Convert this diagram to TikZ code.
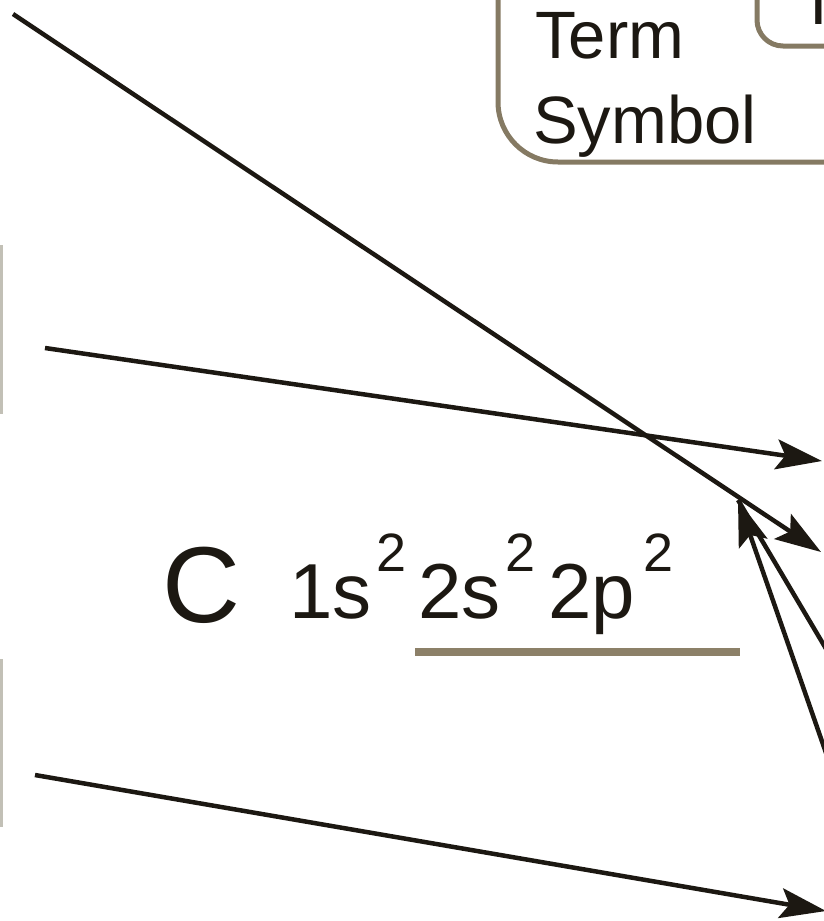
\documentclass[tikz,border=0pt]{standalone}
\usepackage{fontspec}
\setmainfont{Liberation Sans}
\usetikzlibrary{arrows.meta}
\definecolor{ink}{HTML}{1C1812}
\definecolor{boxc}{HTML}{857A63}
\definecolor{barc}{HTML}{C2C0B6}
\definecolor{ulc}{HTML}{8C8068}
\begin{document}
\begin{tikzpicture}[x=1pt,y=-1pt,
  conn/.style={line width=4.5pt, draw=ink, -{Stealth[length=46pt,width=30pt,inset=9pt]}},
  plainline/.style={line width=4.5pt, draw=ink},
  boxline/.style={line width=5pt, draw=boxc},
  edgebar/.style={line width=3pt, draw=barc},
  lbl/.style={text=ink, inner sep=0pt, anchor=base west},
  big/.style={lbl, font=\fontsize{108}{110}\selectfont},
  cfg/.style={lbl, font=\fontsize{78}{80}\selectfont},
  sup/.style={lbl, font=\fontsize{54}{56}\selectfont},
  term/.style={lbl, font=\fontsize{67}{69}\selectfont}]
\useasboundingbox (0,0) rectangle (824,921);
\clip (0,0) rectangle (824,921);
% boxes
\draw[boxline, rounded corners=60pt] (498,-30) -- (498,162) -- (880,162);
\draw[boxline, rounded corners=26pt] (757,-30) -- (757,46) -- (880,46);
\draw[edgebar] (1.5,245) -- (1.5,414);
\draw[edgebar] (1.5,659) -- (1.5,827);
% texts
\node[term] (term) at (535,58) {Term};
\node[term] (sym) at (533,143) {Symbol};
\node[term] (frag) at (809,24) {I};
\node[big] (C) at (162,622) {C};
\node[cfg] (s1) at (289,618) {1s};
\node[sup] (e1) at (376,571) {2};
\node[cfg] (s2) at (418,618) {2s};
\node[sup] (e2) at (505,571) {2};
\node[cfg] (p2) at (548,618) {2p};
\node[sup] (e3) at (643,571) {2};
\coordinate (ul1) at (415,652);
\coordinate (ul2) at (740,652);
\draw[line width=8pt, draw=ulc] (ul1) -- (ul2);
% connectors
\coordinate (d0) at (13,14);
\coordinate (d1) at (821,552);
\draw[conn] (d0) -- (d1);
\coordinate (m0) at (45,348);
\coordinate (m1) at (822,461);
\draw[conn] (m0) -- (m1);
\coordinate (l0) at (35,775);
\coordinate (l1) at (826,911);
\draw[conn] (l0) -- (l1);
\coordinate (apex) at (738,500);
\coordinate (aEnd) at (851,691);
\coordinate (bEnd) at (849,819);
\draw[plainline] (apex) -- (aEnd);
\draw[conn] (bEnd) -- (apex);
\end{tikzpicture}
\end{document}
